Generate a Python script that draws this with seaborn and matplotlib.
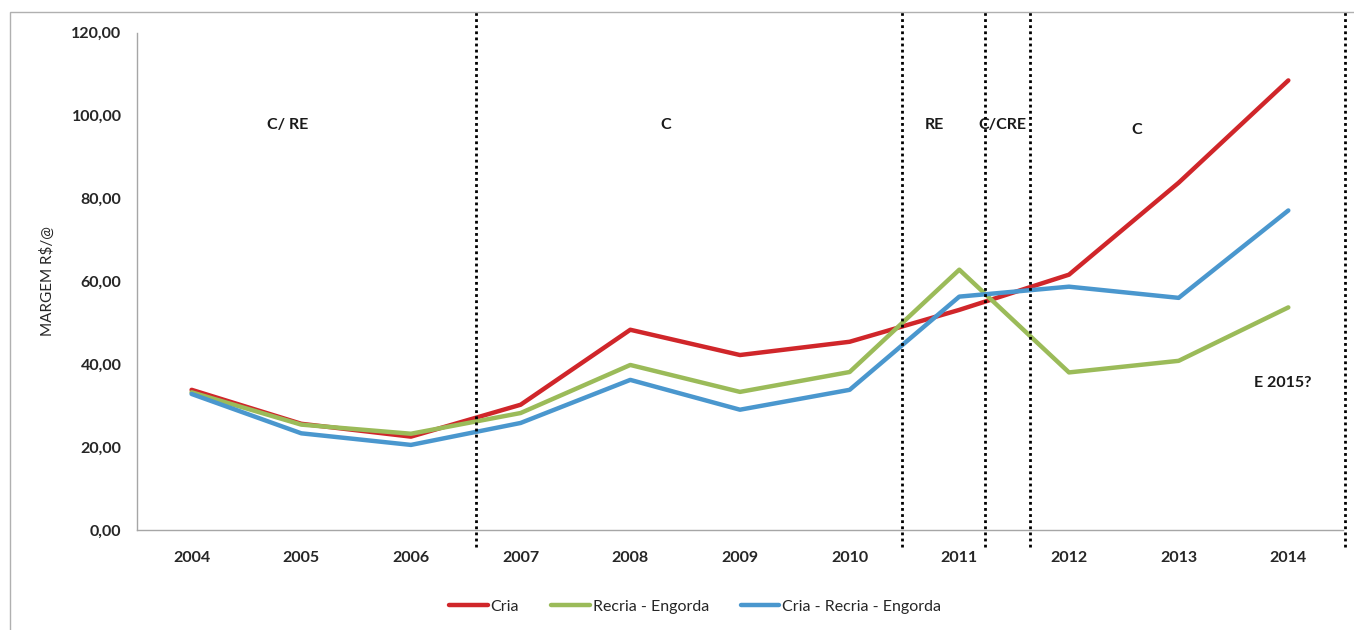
import matplotlib
matplotlib.use("Agg")
import matplotlib.pyplot as plt
import seaborn as sns
import pandas as pd
from matplotlib.patches import Rectangle

years = [2004, 2005, 2006, 2007, 2008, 2009, 2010, 2011, 2012, 2013, 2014]
cria = [33.8, 25.6, 22.5, 30.2, 48.3, 42.2, 45.4, 53.1, 61.6, 83.8, 108.5]
recria_engorda = [33.2, 25.4, 23.2, 28.2, 39.8, 33.3, 38.1, 62.8, 38.0, 40.8, 53.7]
cria_recria_engorda = [32.8, 23.3, 20.5, 25.8, 36.2, 29.0, 33.8, 56.3, 58.7, 56.0, 77.1]
series_names = ["Cria", "Recria - Engorda", "Cria - Recria - Engorda"]
colors = ["#D0262A", "#9BBB59", "#4A97CE"]
y_ticks = [0, 20, 40, 60, 80, 100, 120]
phase_lines = [2006.59, 2010.48, 2011.23, 2011.64, 2014.52]
phase_labels = ["C/ RE", "C", "RE", "C/CRE", "C", "E 2015?"]
phase_label_x = [2004.88, 2008.32, 2010.77, 2011.39, 2012.62, 2013.95]
phase_label_y = [97.8, 97.8, 97.8, 97.8, 96.6, 35.5]

df = pd.DataFrame({
    "Ano": years * 3,
    "Margem": cria + recria_engorda + cria_recria_engorda,
    "Serie": [series_names[0]] * len(years) + [series_names[1]] * len(years) + [series_names[2]] * len(years),
})

sns.set_theme(style="white")
plt.rcParams["font.family"] = ["Lato", "DejaVu Sans"]

fig = plt.figure(figsize=(13.54, 6.3), dpi=100)
ax = fig.add_axes([0.101, 0.159, 0.891, 0.789])

sns.lineplot(data=df, x="Ano", y="Margem", hue="Serie", palette=colors,
             hue_order=series_names, linewidth=3.2, ax=ax, legend=True, sort=False)

ax.set_xlim(2003.5, 2014.5)
ax.set_ylim(0, 120)
ax.set_xticks(years)
ax.set_xticklabels([str(y) for y in years], fontsize=11.5, fontweight="bold")
ax.set_yticks(y_ticks)
ax.set_yticklabels([f"{v:.2f}".replace(".", ",") for v in y_ticks], fontsize=11.5, fontweight="bold")
ax.tick_params(axis="x", pad=15, length=0)
ax.tick_params(axis="y", pad=11, length=0)
ax.set_xlabel("")
ax.set_ylabel("MARGEM R$/@", fontsize=11, labelpad=12)

for s in ["top", "right"]:
    ax.spines[s].set_visible(False)
for s in ["left", "bottom"]:
    ax.spines[s].set_color("#A6A6A6")
    ax.spines[s].set_linewidth(1.0)

for xv in phase_lines:
    ax.axvline(xv, ymin=-0.035, ymax=1.043, color="black", linestyle=(0, (1, 1.2)),
               linewidth=2.0, clip_on=False, zorder=5)

for lbl, xv, yv in zip(phase_labels, phase_label_x, phase_label_y):
    ax.text(xv, yv, lbl, fontsize=11.5, fontweight="bold", ha="center", va="center", color="#1a1a1a")

leg = ax.legend(loc="center", bbox_to_anchor=(0.463, -0.155), ncol=3, frameon=False,
                fontsize=11.5, handlelength=2.4, columnspacing=2.0, handletextpad=0.2)
for line in leg.get_lines():
    line.set_linewidth(3.2)

fig.patches.append(Rectangle((10 / 1354, -0.01), 1.02, 1 - 12 / 630 + 0.01, transform=fig.transFigure,
                             fill=False, edgecolor="#B0B0B0", linewidth=1.0))

fig.savefig("out.png", dpi=100)
